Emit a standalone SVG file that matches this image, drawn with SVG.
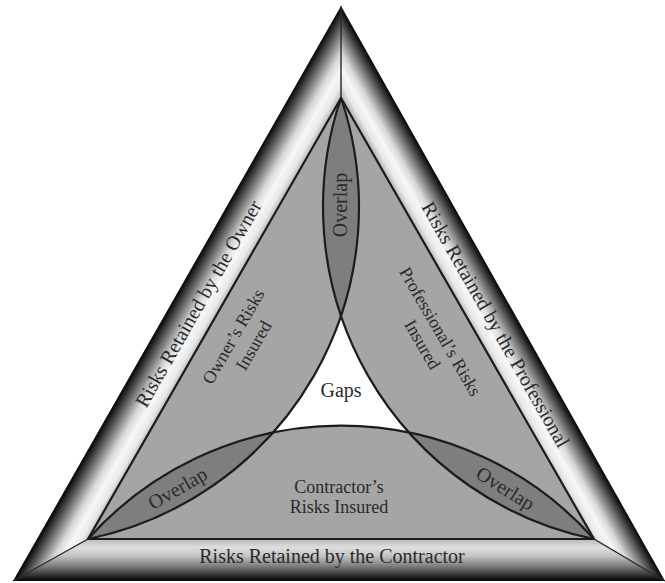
<svg xmlns="http://www.w3.org/2000/svg" width="665" height="583" viewBox="0 0 665 583">
  <defs>
    <!-- bevel shading: dark at the outer rim, bright towards the inner triangle -->
    <linearGradient id="bevelLeft" gradientUnits="userSpaceOnUse" x1="175.5" y1="296.3" x2="214.5" y2="318.5">
      <stop offset="0" stop-color="#050505"/>
      <stop offset="0.07" stop-color="#202020"/>
      <stop offset="0.28" stop-color="#767676"/>
      <stop offset="0.52" stop-color="#d8d8d8"/>
      <stop offset="0.7" stop-color="#f7f7f7"/>
      <stop offset="0.88" stop-color="#e8e8e8"/>
      <stop offset="1" stop-color="#bcbcbc"/>
    </linearGradient>
    <linearGradient id="bevelRight" gradientUnits="userSpaceOnUse" x1="505.1" y1="297.3" x2="467.5" y2="318.5">
      <stop offset="0" stop-color="#050505"/>
      <stop offset="0.07" stop-color="#202020"/>
      <stop offset="0.28" stop-color="#767676"/>
      <stop offset="0.52" stop-color="#d8d8d8"/>
      <stop offset="0.7" stop-color="#f7f7f7"/>
      <stop offset="0.88" stop-color="#e8e8e8"/>
      <stop offset="1" stop-color="#bcbcbc"/>
    </linearGradient>
    <linearGradient id="bevelBottom" gradientUnits="userSpaceOnUse" x1="341" y1="581" x2="341" y2="539">
      <stop offset="0" stop-color="#050505"/>
      <stop offset="0.1" stop-color="#262626"/>
      <stop offset="0.35" stop-color="#7c7c7c"/>
      <stop offset="0.6" stop-color="#c4c4c4"/>
      <stop offset="0.8" stop-color="#dedede"/>
      <stop offset="1" stop-color="#b8b8b8"/>
    </linearGradient>
    <style>
      .lbl { font-family: "Liberation Serif", "Times New Roman", serif; fill: #2a2a2a; text-anchor: middle; }
      .big { font-size: 20px; }
      .mid { font-size: 18px; }
      .edge { fill: none; stroke: #1c1c1c; stroke-width: 2.2; stroke-linejoin: round; }
      .miter { fill: none; stroke: #262626; stroke-width: 1.4; }
      .insured { fill: #a5a5a5; }
      .overlap { fill: #7e7e7e; }
      .gap { fill: #ffffff; }
    </style>
  </defs>

  <rect width="665" height="583" fill="#ffffff"/>

  <!-- outer frame: three bevelled bands -->
  <g id="owner-retained">
    <polygon points="341,6 341,98 88,539 13,581" fill="url(#bevelLeft)"/>
    <text class="lbl big" transform="translate(199,304) rotate(-60.3)" x="0" y="6">Risks Retained by the Owner</text>
  </g>
  <g id="professional-retained">
    <polygon points="341,6 665,581 594,539 341,98" fill="url(#bevelRight)"/>
    <text class="lbl big" transform="translate(495,325) rotate(60.4)" x="0" y="6">Risks Retained by the Professional</text>
  </g>
  <g id="contractor-retained">
    <polygon points="13,581 88,539 594,539 665,581" fill="url(#bevelBottom)"/>
    <text class="lbl big" x="332" y="563">Risks Retained by the Contractor</text>
  </g>

  <!-- inner triangle: insured risks -->
  <g id="insured-area">
    <polygon class="insured" points="341,98 88,539 594,539"/>
  </g>

  <g id="overlap-top">
    <path class="overlap" d="M341,98 A339,339 0 0 1 341,315.81 A339,339 0 0 1 341,98 Z"/>
    <text class="lbl big" transform="translate(341,205) rotate(-90)" x="0" y="6">Overlap</text>
  </g>
  <g id="overlap-left">
    <path class="overlap" d="M88,539 A339,339 0 0 1 272.96,432.54 A339,339 0 0 1 88,539 Z"/>
    <text class="lbl big" transform="translate(178,489) rotate(-30)" x="0" y="6">Overlap</text>
  </g>
  <g id="overlap-right">
    <path class="overlap" d="M594,539 A339,339 0 0 0 409.04,432.54 A339,339 0 0 0 594,539 Z"/>
    <text class="lbl big" transform="translate(505,489) rotate(32)" x="0" y="6">Overlap</text>
  </g>
  <g id="gaps">
    <path class="gap" d="M341,315.81 A339,339 0 0 1 272.96,432.54 A339,339 0 0 1 409.04,432.54 A339,339 0 0 1 341,315.81 Z"/>
    <text class="lbl big" x="341" y="397">Gaps</text>
  </g>

  <g id="owner-insured">
    <text class="lbl mid" transform="translate(244,340) rotate(-60)">
      <tspan x="0" y="-5">Owner’s Risks</tspan>
      <tspan x="0" y="17">Insured</tspan>
    </text>
  </g>
  <g id="professional-insured">
    <text class="lbl mid" transform="translate(432,339) rotate(60)">
      <tspan x="0" y="-5">Professional’s Risks</tspan>
      <tspan x="0" y="17">Insured</tspan>
    </text>
  </g>
  <g id="contractor-insured">
    <text class="lbl mid" x="339" y="493">Contractor’s</text>
    <text class="lbl mid" x="339" y="513">Risks Insured</text>
  </g>

  <!-- boundary lines -->
  <g id="connectors">
    <line class="miter" x1="341" y1="6" x2="341" y2="98"/>
    <line class="miter" x1="13" y1="581" x2="88" y2="539"/>
    <line class="miter" x1="665" y1="581" x2="594" y2="539"/>
    <polygon class="edge" points="341,98 88,539 594,539"/>
    <path class="edge" d="M341,98 A339,339 0 0 1 88,539"/>
    <path class="edge" d="M341,98 A339,339 0 0 0 594,539"/>
    <path class="edge" d="M88,539 A339,339 0 0 1 594,539"/>
  </g>
</svg>
